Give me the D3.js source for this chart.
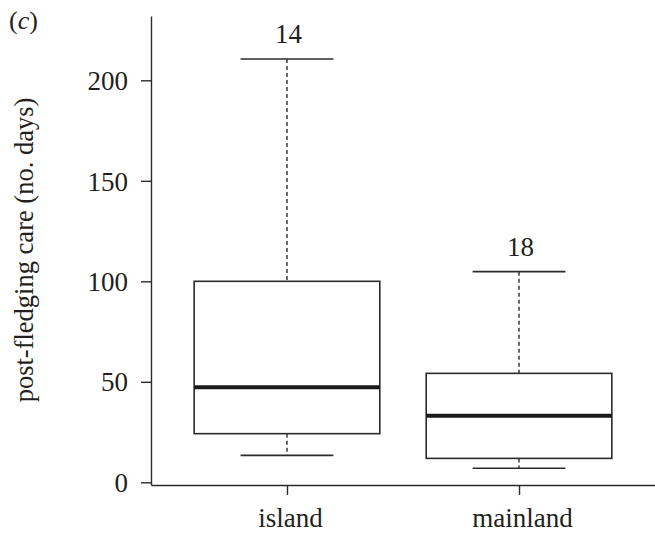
<!DOCTYPE html>
<html>
<head>
<meta charset="utf-8">
<script src="https://cdn.jsdelivr.net/npm/d3@7"></script>
<style>
  html, body { margin: 0; padding: 0; background: #fff; }
  svg { display: block; }
  text { font-family: "Liberation Serif", "Times New Roman", serif; fill: #231f20; }
</style>
</head>
<body>
<svg id="chart" width="655" height="533"></svg>
<script>
// Post-fledging care duration by habitat (box plot summaries)
const categories = ["island", "mainland"];
const whiskerLow  = [13.4, 7.0];
const quartile1   = [24.2, 11.9];
const medians     = [47.3, 33.1];
const quartile3   = [100, 54.2];
const whiskerHigh = [210.6, 104.8];
const sampleSizes = [14, 18];
const yTicks = [0, 50, 100, 150, 200];

const svg = d3.select("#chart");
const ink = "#2b2b2b";

const y = d3.scaleLinear().domain([-1.34, 232]).range([485, 16]);
const x = d3.scalePoint().domain(categories).range([151, 655]).padding(0.586);
const step = x.step();
const boxW = 0.8 * step;
const capW = 0.4 * step;

// y axis
const yAxis = svg.append("g")
  .attr("transform", "translate(151,0)")
  .call(d3.axisLeft(y).tickValues(yTicks).tickSize(10).tickSizeOuter(0).tickPadding(13));
yAxis.selectAll("path, line").attr("stroke", ink).attr("stroke-width", 1.4);
yAxis.selectAll("text").attr("font-size", 27).attr("dy", "0.34em");

// x axis
const xAxis = svg.append("g")
  .attr("transform", "translate(0,485)")
  .call(d3.axisBottom(x).tickSize(10).tickSizeOuter(0).tickPadding(13));
xAxis.selectAll("path, line").attr("stroke", ink).attr("stroke-width", 1.4);
xAxis.selectAll("text").attr("font-size", 27).attr("dx", "3");

const data = categories.map((c, i) => ({
  cat: c, lo: whiskerLow[i], q1: quartile1[i], med: medians[i],
  q3: quartile3[i], hi: whiskerHigh[i], n: sampleSizes[i]
}));

const g = svg.append("g");
const boxes = g.selectAll("g.box").data(data).join("g").attr("class", "box");

// dashed whiskers
boxes.append("line")
  .attr("x1", d => x(d.cat)).attr("x2", d => x(d.cat))
  .attr("y1", d => y(d.hi)).attr("y2", d => y(d.q3))
  .attr("stroke", ink).attr("stroke-width", 1.4).attr("stroke-dasharray", "4,3");
boxes.append("line")
  .attr("x1", d => x(d.cat)).attr("x2", d => x(d.cat))
  .attr("y1", d => y(d.q1)).attr("y2", d => y(d.lo))
  .attr("stroke", ink).attr("stroke-width", 1.4).attr("stroke-dasharray", "4,3");

// whisker caps
["hi", "lo"].forEach(k => {
  boxes.append("line")
    .attr("x1", d => x(d.cat) - capW / 2).attr("x2", d => x(d.cat) + capW / 2)
    .attr("y1", d => y(d[k])).attr("y2", d => y(d[k]))
    .attr("stroke", ink).attr("stroke-width", 1.6);
});

// interquartile box
boxes.append("rect")
  .attr("x", d => x(d.cat) - boxW / 2)
  .attr("width", boxW)
  .attr("y", d => y(d.q3))
  .attr("height", d => y(d.q1) - y(d.q3))
  .attr("fill", "none").attr("stroke", ink).attr("stroke-width", 1.6);

// median
boxes.append("line")
  .attr("x1", d => x(d.cat) - boxW / 2).attr("x2", d => x(d.cat) + boxW / 2)
  .attr("y1", d => y(d.med)).attr("y2", d => y(d.med))
  .attr("stroke", "#1a1a1a").attr("stroke-width", 4);

// sample sizes above upper whiskers
boxes.append("text")
  .attr("x", d => x(d.cat) + 1.5)
  .attr("y", d => y(d.hi) - 16)
  .attr("text-anchor", "middle")
  .attr("font-size", 27)
  .text(d => d.n);

// y axis title
svg.append("text")
  .attr("transform", "translate(33,250) rotate(-90)")
  .attr("text-anchor", "middle")
  .attr("font-size", 26.5)
  .text("post-fledging care (no. days)");

// panel label
const lab = svg.append("text").attr("x", 9).attr("y", 29).attr("font-size", 26);
lab.append("tspan").text("(");
lab.append("tspan").attr("font-style", "italic").text("c");
lab.append("tspan").text(")");
</script>
</body>
</html>
